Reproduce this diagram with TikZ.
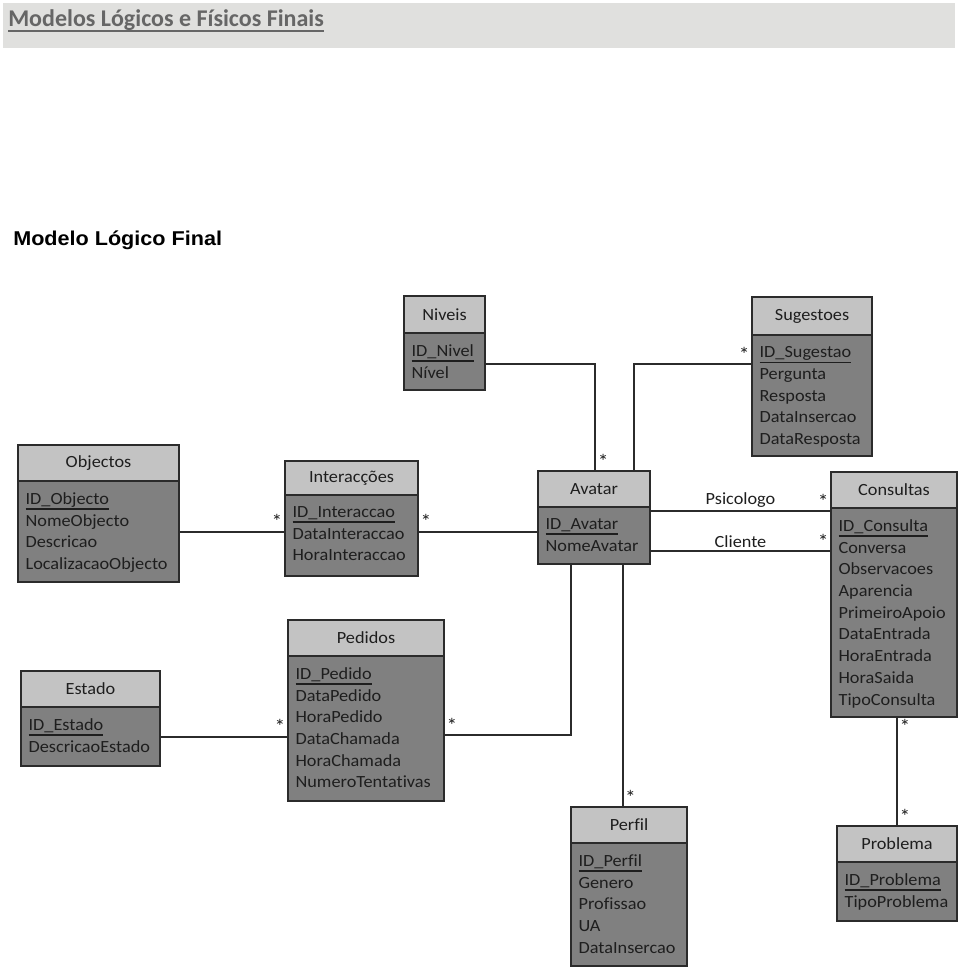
\documentclass[tikz,border=0pt]{standalone}
\usepackage{fontspec}
\setmainfont{Carlito}[FakeStretch=1.07,Ligatures=NoCommon]
\newfontfamily\titlef{Carlito}[Ligatures=NoCommon]
\newfontfamily\arialf{Liberation Sans}[FakeStretch=1.08]
\usetikzlibrary{calc}
\definecolor{hdrc}{HTML}{C3C3C3}
\definecolor{bdyc}{HTML}{808080}
\definecolor{edge}{HTML}{2B2B2B}
\definecolor{txt}{HTML}{1E1E1E}
\definecolor{barc}{HTML}{E0E0DE}
\definecolor{ttl}{HTML}{666666}
\newcommand\pk[1]{\setbox0\hbox{#1}\rlap{\copy0}\rule[-4.2pt]{\wd0}{1.2pt}}
\newcommand\ttlul[1]{\setbox0\hbox{#1}\rlap{\copy0}\rule[-3.6pt]{\wd0}{1.4pt}}
\newcommand\entity[8]{%
  \node[hdr, minimum width=#4*0.75pt, minimum height=#5*0.75pt] (#1) at (#2,#3) {#7};
  \node[bdy, minimum width=#4*0.75pt, minimum height=#6*0.75pt] (#1b) at (#1.south west) {};
  \node[rows] (#1t) at ([xshift=5.5pt,yshift=-8.4pt]#1b.north west) {#8};
}
\begin{document}
\begin{tikzpicture}[x=0.75pt,y=-0.75pt,
  font={\fontsize{12.8}{16.3}\selectfont},
  hdr/.style={draw=edge, line width=1.2pt, fill=hdrc, inner sep=0pt, outer sep=0pt, anchor=north west, text=txt},
  bdy/.style={draw=edge, line width=1.2pt, fill=bdyc, inner sep=0pt, outer sep=0pt, anchor=north west},
  rows/.style={align=left, inner sep=0pt, anchor=north west, text=txt},
  conn/.style={draw=edge, line width=1.5pt},
  mult/.style={inner sep=1.2pt, text=txt, font={\fontsize{15}{15}\selectfont}},
  rel/.style={text=txt, inner sep=2pt}]
\useasboundingbox (0,0) rectangle (960,969);
\node[fill=barc, inner sep=0pt, outer sep=0pt, anchor=north west, minimum width=952*0.75pt, minimum height=45*0.75pt] (bar) at (3,3) {};
\node[anchor=base west, inner sep=0pt, text=ttl, font={\titlef\bfseries\fontsize{18}{20}\selectfont}] (title) at (8,27) {\ttlul{Modelos Lógicos e Físicos Finais}};
\node[anchor=base west, inner sep=0pt, font={\arialf\bfseries\fontsize{15}{18}\selectfont}] (mlf) at (13,246) {Modelo Lógico Final};

\entity{niv}{404}{296}{81}{37}{57}{Niveis}{\pk{ID\_Nivel}\\Nível}
\entity{sug}{752}{297}{120}{38}{121}{Sugestoes}{\pk{ID\_Sugestao}\\Pergunta\\Resposta\\DataInsercao\\DataResposta}
\entity{obj}{18}{445}{161}{36}{101}{Objectos}{\pk{ID\_Objecto}\\NomeObjecto\\Descricao\\LocalizacaoObjecto}
\entity{int}{285}{461}{133}{34}{81}{Interacções}{\pk{ID\_Interaccao}\\DataInteraccao\\HoraInteraccao}
\entity{av}{538}{471}{112}{36}{57}{Avatar}{\pk{ID\_Avatar}\\NomeAvatar}
\entity{con}{831}{472}{126}{36}{209}{Consultas}{\pk{ID\_Consulta}\\Conversa\\Observacoes\\Aparencia\\PrimeiroApoio\\DataEntrada\\HoraEntrada\\HoraSaida\\TipoConsulta}
\entity{ped}{288}{620}{156}{36}{145}{Pedidos}{\pk{ID\_Pedido}\\DataPedido\\HoraPedido\\DataChamada\\HoraChamada\\NumeroTentativas}
\entity{est}{21}{671}{139}{36}{59}{Estado}{\pk{ID\_Estado}\\DescricaoEstado}
\entity{perf}{571}{807}{116}{36}{123}{Perfil}{\pk{ID\_Perfil}\\Genero\\Profissao\\UA\\DataInsercao}
\entity{prob}{837}{826}{120}{36}{59}{Problema}{\pk{ID\_Problema}\\TipoProblema}

% connectors
\coordinate (nivc) at ([yshift=-2pt]nivb.east);
\draw[conn] (objb.east) -- node[mult, pos=1, anchor=south east]{*} (objb.east -| intb.west);
\draw[conn] (intb.east |- objb.east) -- node[mult, pos=0, anchor=south west]{*} (avb.west |- objb.east);
\draw[conn] (nivc) -| node[mult, pos=1, anchor=south west]{*} ([xshift=1pt]av.north);
\draw[conn] (sugb.west |- nivc) -| node[mult, pos=0, anchor=south east]{*} ([xshift=30pt]av.north);
\draw[conn] ([yshift=-3pt]avb.north east) -- node[rel, midway, above]{Psicologo} node[mult, pos=1, anchor=south east]{*} ([yshift=-3pt]avb.north east -| conb.west);
\draw[conn] ([yshift=9.5pt]avb.south east) -- node[rel, midway, above]{Cliente} node[mult, pos=1, anchor=south east]{*} ([yshift=9.5pt]avb.south east -| conb.west);
\draw[conn] ([xshift=-17.6pt]avb.south) |- node[mult, pos=1, anchor=south west]{*} ([yshift=-4.9pt]pedb.east);
\draw[conn] ([xshift=21.4pt]avb.south) -- node[mult, pos=1, anchor=south west]{*} ([xshift=21.4pt]avb.south |- perf.north);
\draw[conn] (estb.east) -- node[mult, pos=1, anchor=south east]{*} (estb.east -| pedb.west);
\draw[conn] (prob.north |- conb.south) -- node[mult, pos=0, anchor=north west]{*} node[mult, pos=1, anchor=south west]{*} (prob.north);
\end{tikzpicture}
\end{document}
